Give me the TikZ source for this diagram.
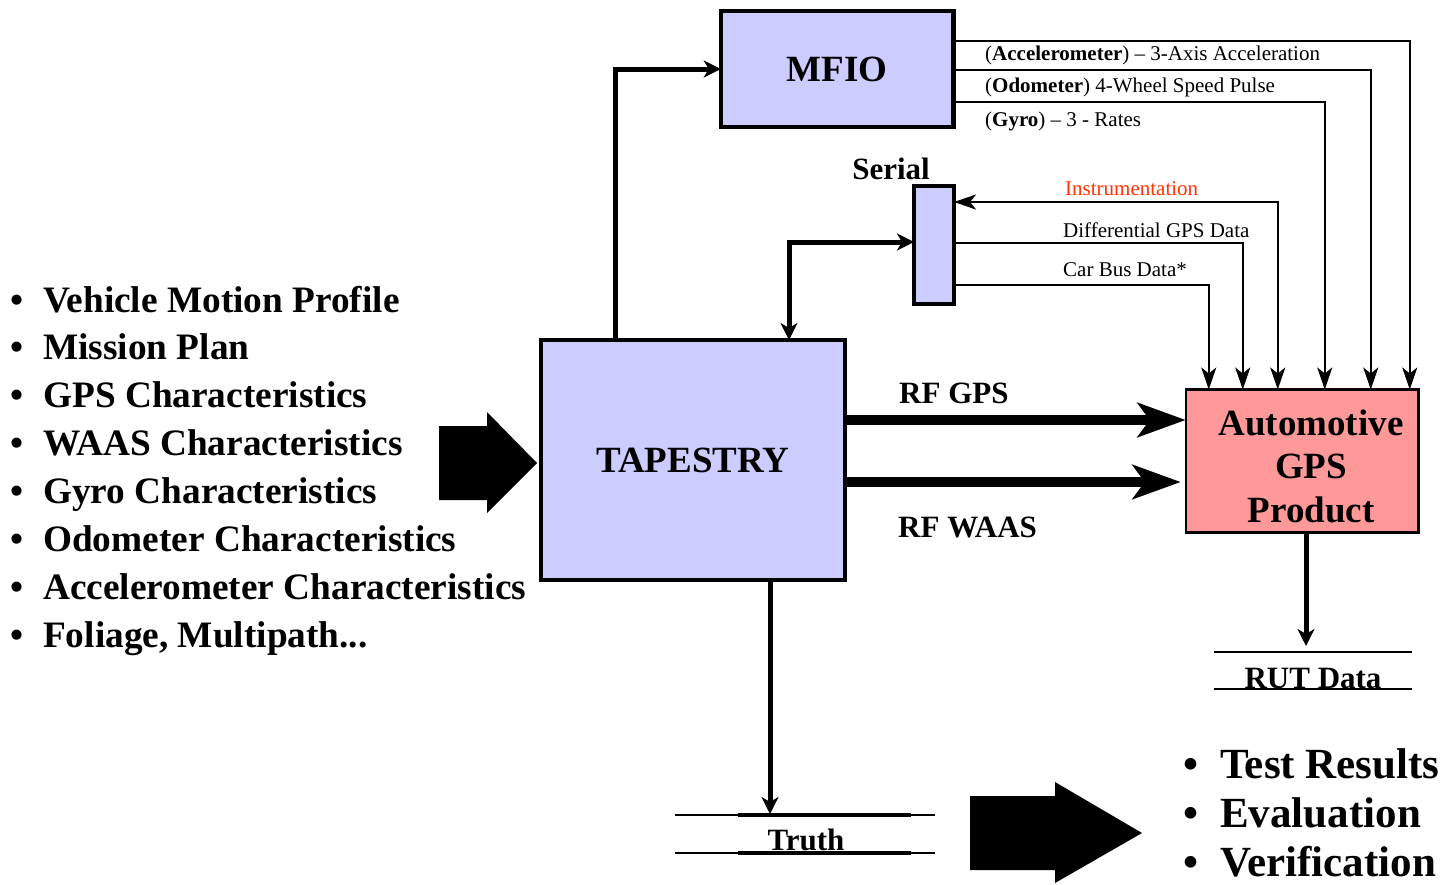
\documentclass[tikz,border=0pt]{standalone}
\usepackage{fontspec}
\setmainfont{Liberation Serif}
\usetikzlibrary{arrows.meta}
\definecolor{boxblue}{HTML}{CCCCFF}
\definecolor{boxpink}{HTML}{FF9999}
\definecolor{instred}{HTML}{FF3300}
\newcommand\myfs[2]{\fontsize{#1}{#2}\selectfont}
\newcommand\myfoliage{Foliage, Multipath...}
\begin{document}
\begin{tikzpicture}[x=1pt,y=-1pt,
  bluebox/.style={draw, line width=4.5pt, fill=boxblue, inner sep=0pt, outer sep=0pt},
  pinkbox/.style={draw, line width=2.5pt, fill=boxpink, inner sep=0pt, outer sep=0pt},
  bigfont/.style={font=\bfseries\myfs{37}{43.5}},
  midfont/.style={font=\bfseries\myfs{31}{36}},
  smallfont/.style={font=\myfs{21}{25}, inner sep=0pt},
  listfont/.style={font=\bfseries\myfs{37.3}{44}},
  rlistfont/.style={font=\bfseries\myfs{43}{50}},
  thinline/.style={line width=2.5pt, line join=miter},
  thintip/.style={-{Stealth[length=22pt,width=15pt,inset=6pt]}},
  thintips/.style={{Stealth[length=22pt,width=15pt,inset=6pt]}-{Stealth[length=22pt,width=15pt,inset=6pt]}},
  medline/.style={line width=5pt, line join=miter},
  medtip/.style={-{Stealth[length=17pt,width=17pt,inset=5pt]}},
  medtips/.style={{Stealth[length=17pt,width=17pt,inset=5pt]}-{Stealth[length=17pt,width=17pt,inset=5pt]}},
  bigline/.style={line width=10pt, -{Stealth[length=48pt,width=34pt,inset=12pt]}},
  rule/.style={line width=2.5pt},
]
\useasboundingbox (0,0) rectangle (1455,884);

% boxes
\node[bluebox, minimum width=232.5pt, minimum height=116pt, bigfont] (mfio) at (837,69) {MFIO};
\node[bluebox, minimum width=304pt, minimum height=240pt, bigfont] (tap) at (693,460) {TAPESTRY};
\node[bluebox, line width=4.3pt, minimum width=40pt, minimum height=118pt] (serial) at (934,245) {};
\node[pinkbox, minimum width=232.5pt, minimum height=143pt] (agps) at (1302,461) {};
\node[bigfont, align=center, inner sep=0pt] (agpsT) at (1311,466) {Automotive\\GPS\\Product};
\node[midfont, anchor=base] (serialT) at (891,179) {Serial};

% TAPESTRY -> MFIO
\draw[medline, medtip] ([xshift=74pt]tap.north west) |- (mfio.west);
% TAPESTRY <-> Serial
\draw[medline, medtips] ([xshift=248pt]tap.north west) |- ([yshift=3pt]serial.west);

% MFIO outputs
\draw[thinline, thintip] ([yshift=28pt]mfio.east) -| ([xshift=224pt]agps.north west);
\draw[thinline, thintip] ([yshift=-1pt]mfio.east) -| ([xshift=185pt]agps.north west);
\draw[thinline, thintip] ([yshift=-33pt]mfio.east) -| ([xshift=139pt]agps.north west);
\node[smallfont, anchor=base west] (accL) at (985,60) {(\textbf{Accelerometer}) -- 3-Axis Acceleration};
\node[smallfont, anchor=base west] (odoL) at (985,92.5) {(\textbf{Odometer}) 4-Wheel Speed Pulse};
\node[smallfont, anchor=base west] (gyrL) at (985,126.5) {(\textbf{Gyro}) -- 3 - Rates};

% Serial lines
\draw[thinline, thintips] ([xshift=92pt]agps.north west) |- ([yshift=43pt]serial.east);
\draw[thinline, thintip] ([yshift=2pt]serial.east) -| ([xshift=57pt]agps.north west);
\draw[thinline, thintip] ([yshift=-40pt]serial.east) -| ([xshift=23pt]agps.north west);
\node[smallfont, anchor=base west, text=instred] (instL) at (1065,195) {Instrumentation};
\node[smallfont, anchor=base west] (dgpsL) at (1063,237) {Differential GPS Data};
\node[smallfont, anchor=base west] (cbL) at (1063,276) {Car Bus Data*};

% RF arrows
\coordinate (gpsS) at ([yshift=40pt]tap.east);
\coordinate (waasS) at ([yshift=-22pt]tap.east);
\draw[bigline] (gpsS) -- (gpsS -| agps.west);
\draw[bigline, shorten >=5pt] (waasS) -- (waasS -| agps.west);
\node[midfont, anchor=base west, inner sep=0pt] (rfgps) at (899,403) {RF GPS};
\node[midfont, anchor=base west, inner sep=0pt] (rfwaas) at (898,537) {RF WAAS};

% RUT data
\draw[rule] (1214,652) -- (1412,652);
\draw[rule] (1214,689) -- (1412,689);
\node[midfont, anchor=base] (rut) at (1313,688) {RUT Data};
\coordinate (rutTip) at (1306,646);
\draw[medline, medtip] ([xshift=4pt]agps.south) -- (rutTip);

% Truth
\draw[rule] (675,815) -- (935,815);
\draw[rule] (675,853) -- (935,853);
\draw[line width=3.5pt] (738,815) -- (911,815);
\draw[line width=3.5pt] (738,853) -- (911,853);
\node[midfont, anchor=base] (truth) at (806,850) {Truth};
\coordinate (truthTip) at (770,814);
\draw[medline, medtip] ([xshift=229pt]tap.south west) -- (truthTip);

% block arrows
\fill (439,426) -- (487,426) -- (487,412) -- (537,463) -- (487,513) -- (487,500) -- (439,500) -- cycle;
\fill (970,796) -- (1055,796) -- (1055,782) -- (1142,833) -- (1055,883) -- (1055,870) -- (970,870) -- cycle;

% left list
\foreach \t [count=\i from 0] in {Vehicle Motion Profile, Mission Plan, GPS Characteristics, WAAS Characteristics, Gyro Characteristics, Odometer Characteristics, Accelerometer Characteristics, \myfoliage} {
  \node[listfont, anchor=base] (lb\i) at (17,{312+47.9*\i}) {\textbullet};
  \node[listfont, anchor=base west, inner sep=0pt] (lt\i) at (43,{312+47.9*\i}) {\t};
}
% right list
\foreach \t [count=\i from 0] in {Test Results, Evaluation, Verification} {
  \node[rlistfont, anchor=base] (rb\i) at (1191,{778+49*\i}) {\textbullet};
  \node[rlistfont, anchor=base west, inner sep=0pt] (rt\i) at (1220,{778+49*\i}) {\t};
}
\end{tikzpicture}
\end{document}
